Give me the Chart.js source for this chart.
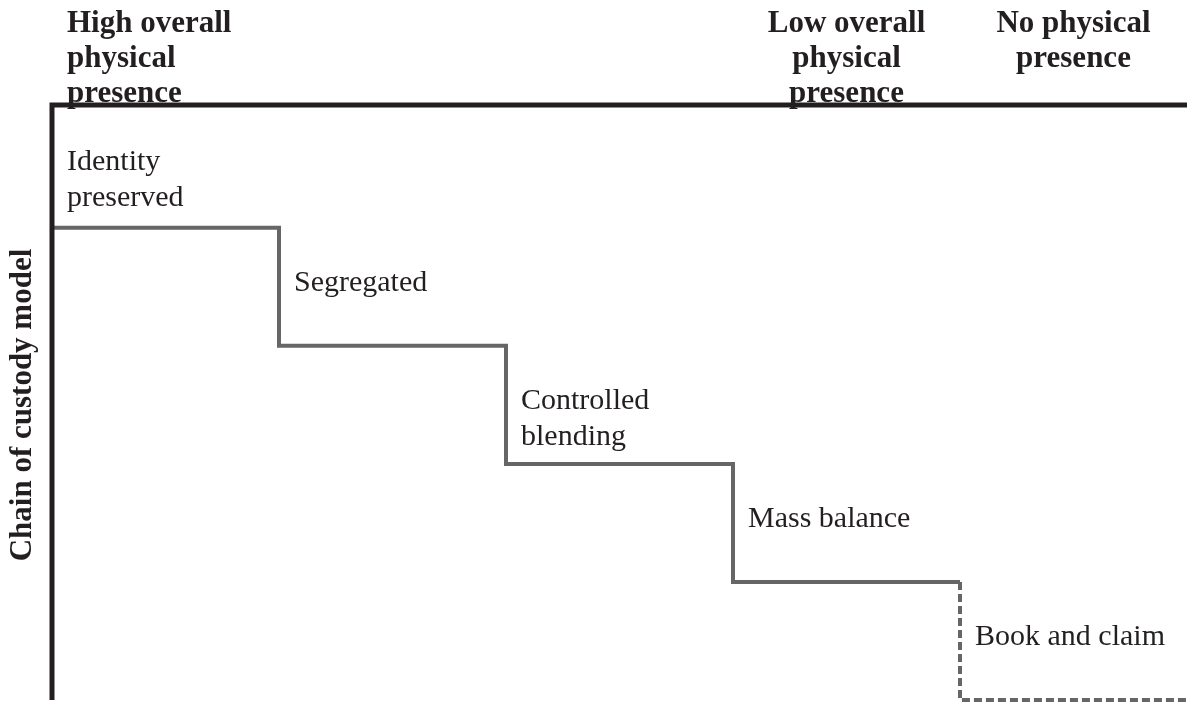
<!DOCTYPE html>
<html>
<head>
<meta charset="utf-8">
<script src="https://cdn.jsdelivr.net/npm/chart.js@4"></script>
<style>
  html, body { margin: 0; padding: 0; background: #fff; }
  #wrap { width: 1187px; height: 704px; }
</style>
</head>
<body>
<div id="wrap"><canvas id="myChart"></canvas></div>
<script>
// chain of custody models, from most to least physical presence
let models = [['Identity', 'preserved'], ['Segregated'], ['Controlled', 'blending'], ['Mass balance'], ['Book and claim']]
let levels = [4, 3, 2, 1, 0]
let header_left = ['High overall', 'physical', 'presence']
let header_low = ['Low overall', 'physical', 'presence']
let header_none = ['No physical', 'presence']
let y_title = 'Chain of custody model'

let line_color = '#666666'
let axis_color = '#231f20'
let serif = '"Liberation Serif", "Times New Roman", serif'

// solid steps for the first four models, dashed step for book and claim
let solid_pts = []
for (let i = 0; i < levels.length - 1; i++) {
    solid_pts.push({ x: i, y: levels[i] })
}
solid_pts.push({ x: levels.length - 1, y: levels[levels.length - 2] })
let dashed_pts = [
    { x: levels.length - 1, y: levels[levels.length - 2] },
    { x: levels.length, y: levels[levels.length - 1] }
]

let textPlugin = {
    id: 'textPlugin',
    afterDraw(chart) {
        let ctx = chart.ctx
        let xs = chart.scales.x
        let ys = chart.scales.y
        let area = chart.chartArea
        ctx.save()

        // frame: left and top thick lines
        ctx.strokeStyle = axis_color
        ctx.lineWidth = 5
        ctx.beginPath()
        ctx.moveTo(area.left, area.bottom)
        ctx.lineTo(area.left, area.top)
        ctx.lineTo(chart.width, area.top)
        ctx.stroke()

        // model labels
        ctx.fillStyle = '#231f20'
        ctx.font = '30px ' + serif
        ctx.textAlign = 'left'
        ctx.textBaseline = 'middle'
        for (let i = 0; i < models.length; i++) {
            let top = i === 0 ? area.top : ys.getPixelForValue(levels[i - 1])
            let mid = (top + ys.getPixelForValue(levels[i])) / 2
            let x = xs.getPixelForValue(i) + 15
            models[i].forEach((t, k) => ctx.fillText(t, x, mid - 4 + k * 36))
        }

        // headers
        ctx.font = 'bold 31px ' + serif
        header_left.forEach((t, k) => ctx.fillText(t, xs.getPixelForValue(0) + 15, 24 + k * 35))
        ctx.textAlign = 'center'
        header_low.forEach((t, k) => ctx.fillText(t, xs.getPixelForValue(3.5), 24 + k * 35))
        header_none.forEach((t, k) => ctx.fillText(t, xs.getPixelForValue(4.5), 24 + k * 35))

        // y title
        ctx.font = 'bold 31px ' + serif
        ctx.translate(23, 405)
        ctx.rotate(-Math.PI / 2)
        ctx.fillText(y_title, 0, 0)
        ctx.restore()
    }
}

let ctx = document.getElementById('myChart').getContext('2d')
let myChart = new Chart(ctx, {
    type: 'line',
    data: {
        datasets: [{
            data: solid_pts,
            stepped: 'before',
            borderColor: line_color,
            borderWidth: 4,
            borderJoinStyle: 'miter',
            pointRadius: 0,
            fill: false,
            clip: false
        }, {
            data: dashed_pts,
            stepped: 'after',
            borderColor: line_color,
            borderWidth: 4,
            borderDash: [8, 4],
            pointRadius: 0,
            fill: false,
            clip: false
        }]
    },
    options: {
        responsive: true,
        maintainAspectRatio: false,
        animation: false,
        layout: { padding: { left: 52, top: 105, right: 0, bottom: 4 } },
        plugins: { legend: { display: false }, tooltip: { enabled: false } },
        scales: {
            x: { type: 'linear', min: 0, max: 5, display: false },
            y: { type: 'linear', min: 0, max: 5.04, display: false }
        }
    },
    plugins: [textPlugin]
})
</script>
</body>
</html>
